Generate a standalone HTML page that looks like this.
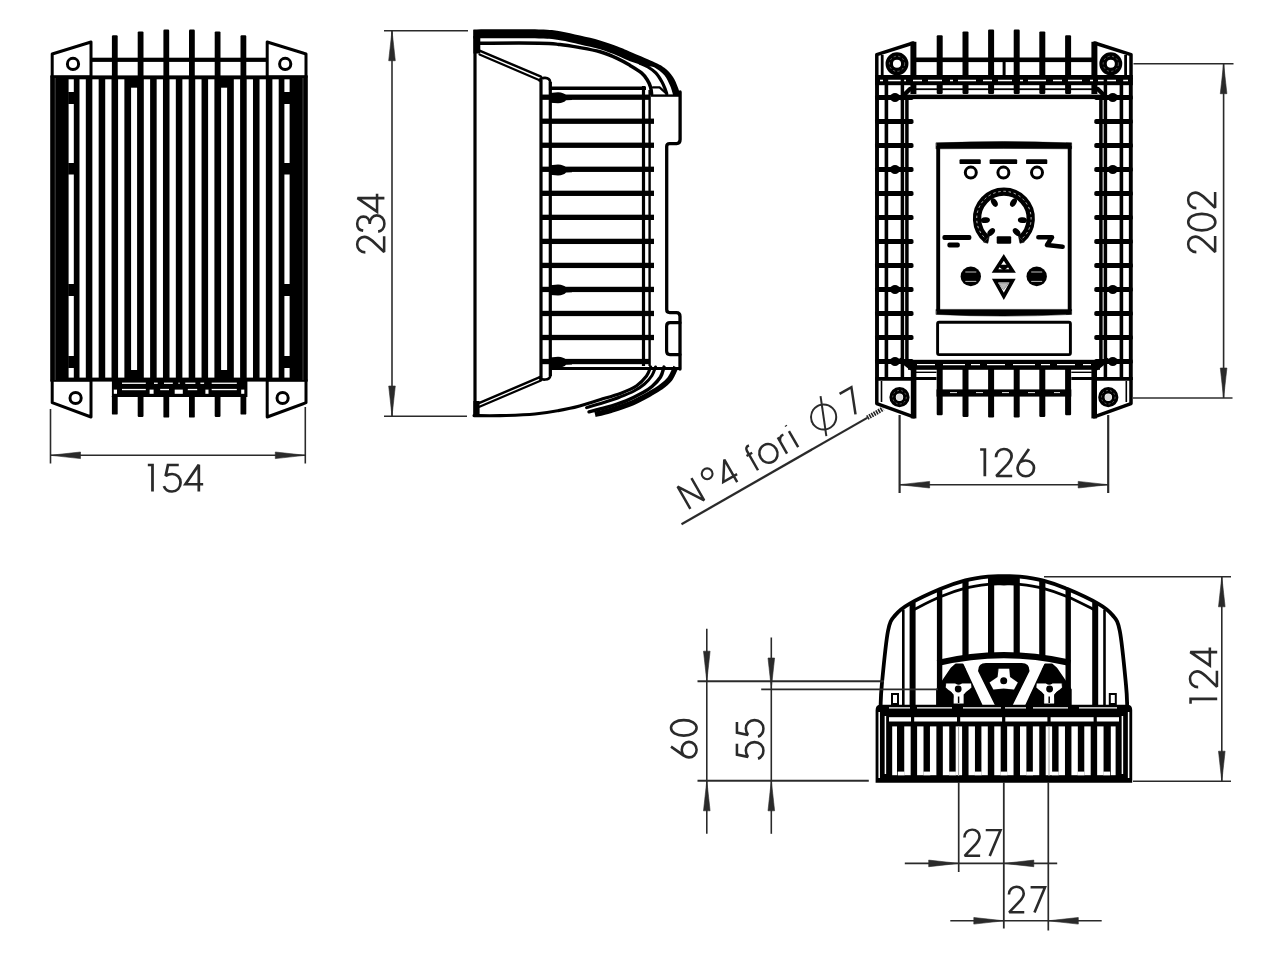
<!DOCTYPE html>
<html><head><meta charset="utf-8"><title>Dimensions</title>
<style>
html,body{margin:0;padding:0;background:#fff;}
body{width:1275px;height:960px;overflow:hidden;font-family:"Liberation Sans",sans-serif;}
svg{display:block;}
</style></head><body>
<svg width="1275" height="960" viewBox="0 0 1275 960">
<defs><filter id="soft" x="-2%" y="-2%" width="104%" height="104%"><feGaussianBlur stdDeviation="0.75"/></filter></defs>
<rect width="1275" height="960" fill="#fff"/>
<g filter="url(#soft)">
<path d="M52.2,77 L52.2,54 L91.0,42 L91.0,77 Z" stroke="#000" stroke-width="3" fill="#fff" stroke-linejoin="round" stroke-linecap="round" />
<circle cx="73.00" cy="63.90" r="5.60" stroke="#000" stroke-width="3" fill="none"/>
<path d="M52.2,380 L52.2,402.7 L91.0,417 L91.0,380 Z" stroke="#000" stroke-width="3" fill="#fff" stroke-linejoin="round" stroke-linecap="round" />
<circle cx="75.60" cy="398.00" r="5.60" stroke="#000" stroke-width="3" fill="none"/>
<path d="M306.0,77 L306.0,54 L267.2,42 L267.2,77 Z" stroke="#000" stroke-width="3" fill="#fff" stroke-linejoin="round" stroke-linecap="round" />
<circle cx="285.20" cy="63.90" r="5.60" stroke="#000" stroke-width="3" fill="none"/>
<path d="M306.0,380 L306.0,402.7 L267.2,417 L267.2,380 Z" stroke="#000" stroke-width="3" fill="#fff" stroke-linejoin="round" stroke-linecap="round" />
<circle cx="282.60" cy="398.00" r="5.60" stroke="#000" stroke-width="3" fill="none"/>
<rect x="91.00" y="57.70" width="176.20" height="4.20" fill="#000" />
<rect x="189.00" y="29.6" width="5.8" height="48.40" rx="1.2" fill="#000"/>
<rect x="189.00" y="395" width="5.8" height="22.60" rx="1.2" fill="#000"/>
<rect x="163.40" y="29.6" width="5.8" height="48.40" rx="1.2" fill="#000"/>
<rect x="163.40" y="395" width="5.8" height="22.60" rx="1.2" fill="#000"/>
<rect x="214.70" y="31.4" width="5.8" height="46.60" rx="1.2" fill="#000"/>
<rect x="214.70" y="395" width="5.8" height="22.00" rx="1.2" fill="#000"/>
<rect x="137.70" y="31.4" width="5.8" height="46.60" rx="1.2" fill="#000"/>
<rect x="137.70" y="395" width="5.8" height="22.00" rx="1.2" fill="#000"/>
<rect x="240.50" y="35.2" width="5.8" height="42.80" rx="1.2" fill="#000"/>
<rect x="240.50" y="395" width="5.8" height="19.60" rx="1.2" fill="#000"/>
<rect x="111.90" y="35.2" width="5.8" height="42.80" rx="1.2" fill="#000"/>
<rect x="111.90" y="395" width="5.8" height="19.60" rx="1.2" fill="#000"/>
<rect x="50.20" y="75.40" width="257.60" height="306.20" fill="#000" />
<rect x="182.38" y="79.30" width="6.30" height="298.30" fill="#fff" />
<rect x="169.52" y="79.30" width="6.30" height="298.30" fill="#fff" />
<rect x="195.24" y="79.30" width="6.30" height="298.30" fill="#fff" />
<rect x="156.66" y="79.30" width="6.30" height="298.30" fill="#fff" />
<rect x="208.10" y="79.30" width="6.30" height="298.30" fill="#fff" />
<rect x="143.80" y="79.30" width="6.30" height="298.30" fill="#fff" />
<rect x="221.11" y="87.70" width="6.00" height="282.30" fill="#fff" />
<rect x="131.09" y="87.70" width="6.00" height="282.30" fill="#fff" />
<rect x="233.82" y="79.30" width="6.30" height="298.30" fill="#fff" />
<rect x="118.08" y="79.30" width="6.30" height="298.30" fill="#fff" />
<rect x="246.68" y="79.30" width="6.30" height="298.30" fill="#fff" />
<rect x="105.22" y="79.30" width="6.30" height="298.30" fill="#fff" />
<rect x="259.54" y="79.30" width="6.30" height="298.30" fill="#fff" />
<rect x="92.36" y="79.30" width="6.30" height="298.30" fill="#fff" />
<rect x="272.40" y="79.30" width="6.30" height="298.30" fill="#fff" />
<rect x="79.50" y="79.30" width="6.30" height="298.30" fill="#fff" />
<rect x="68.60" y="79.30" width="5.20" height="298.30" fill="#fff" />
<rect x="68.20" y="92.00" width="6.00" height="12.00" fill="#000" />
<rect x="68.20" y="163.00" width="6.00" height="11.50" fill="#000" />
<rect x="68.20" y="284.00" width="6.00" height="12.00" fill="#000" />
<rect x="68.20" y="356.00" width="6.00" height="12.00" fill="#000" />
<line x1="55.20" y1="78.00" x2="55.20" y2="380.00" stroke="#555" stroke-width="0.8" stroke-linecap="butt"/>
<rect x="284.40" y="79.30" width="5.20" height="298.30" fill="#fff" />
<rect x="284.00" y="92.00" width="6.00" height="12.00" fill="#000" />
<rect x="284.00" y="163.00" width="6.00" height="11.50" fill="#000" />
<rect x="284.00" y="284.00" width="6.00" height="12.00" fill="#000" />
<rect x="284.00" y="356.00" width="6.00" height="12.00" fill="#000" />
<line x1="303.00" y1="78.00" x2="303.00" y2="380.00" stroke="#555" stroke-width="0.8" stroke-linecap="butt"/>
<rect x="111.90" y="379.00" width="135.50" height="18.00" fill="#000" />
<rect x="122.00" y="382.60" width="23.80" height="1.30" fill="#fff" />
<rect x="154.00" y="382.60" width="3.70" height="1.30" fill="#fff" />
<rect x="164.00" y="382.60" width="8.80" height="1.30" fill="#fff" />
<rect x="178.40" y="382.60" width="1.30" height="1.30" fill="#fff" />
<rect x="185.30" y="382.60" width="10.10" height="1.30" fill="#fff" />
<rect x="200.40" y="382.60" width="3.70" height="1.30" fill="#fff" />
<rect x="211.70" y="382.60" width="25.10" height="1.30" fill="#fff" />
<rect x="122.00" y="388.90" width="23.80" height="1.30" fill="#fff" />
<rect x="160.20" y="388.90" width="8.80" height="1.30" fill="#fff" />
<rect x="187.80" y="388.90" width="9.40" height="1.30" fill="#fff" />
<rect x="211.70" y="388.90" width="25.10" height="1.30" fill="#fff" />
<rect x="113.80" y="389.60" width="3.20" height="4.20" fill="#fff" />
<rect x="149.60" y="389.60" width="4.00" height="4.20" fill="#fff" />
<rect x="174.70" y="389.60" width="8.10" height="4.20" fill="#fff" />
<rect x="205.40" y="389.60" width="3.10" height="4.20" fill="#fff" />
<rect x="241.20" y="389.60" width="3.10" height="4.20" fill="#fff" />
<line x1="475.00" y1="30.00" x2="475.00" y2="417.00" stroke="#000" stroke-width="3.2" stroke-linecap="butt"/>
<path d="M474.0,415.6 C478.3,415.6 489.8,415.9 500.0,415.6 C510.2,415.3 523.3,415.2 535.0,414.0 C546.7,412.8 559.1,410.7 570.0,408.3 C580.9,405.9 592.1,402.0 600.6,399.5 C609.1,397.0 615.0,395.4 621.0,393.2 C627.0,390.9 632.0,388.9 636.3,386.0 C640.5,383.1 644.1,379.2 646.5,376.0 C648.9,372.8 649.9,368.5 650.6,367.0" stroke="#000" stroke-width="3.1" fill="none" stroke-linejoin="round" stroke-linecap="round" />
<path d="M473.4,29.4 C484.3,29.4 524.6,29.1 539.0,29.4 C553.4,29.7 553.2,30.2 560.0,31.2 C566.8,32.2 573.3,34.1 580.0,35.6 C586.7,37.1 593.7,38.7 600.0,40.5 C606.3,42.3 612.6,44.6 617.6,46.5 C622.6,48.4 624.1,49.2 630.0,51.7 C635.9,54.2 647.2,58.8 652.9,61.5 C658.6,64.2 661.0,65.2 664.4,67.8 C667.8,70.4 670.8,73.8 673.0,76.9 C675.2,80.1 676.5,83.9 677.6,86.7 C678.8,89.5 679.5,92.1 679.9,93.5 C680.3,94.9 680.2,94.8 680.2,95.0 L673.0,95.0 C672.9,94.6 672.9,94.0 672.4,92.4 C671.9,90.8 671.3,88.4 670.0,85.5 C668.7,82.6 667.0,78.2 664.4,75.2 C661.8,72.2 657.3,68.9 654.6,67.4 C651.9,65.9 650.2,66.7 648.0,66.3 C645.8,65.9 644.5,65.8 641.5,65.0 C638.5,64.2 634.0,62.8 630.0,61.3 C626.0,59.8 622.6,57.7 617.6,55.7 C612.6,53.7 606.3,51.2 600.0,49.3 C593.7,47.4 586.7,45.9 580.0,44.4 C573.3,42.9 566.8,41.2 560.0,40.2 C553.2,39.2 553.4,38.7 539.0,38.4 C524.6,38.1 484.3,38.4 473.4,38.4 Z" fill="#000"/>
<path d="M478.0,43.2 C488.2,43.2 525.3,43.0 539.0,43.2 C552.7,43.4 553.2,43.8 560.0,44.5 C566.8,45.2 573.3,46.4 580.0,47.6 C586.7,48.8 593.7,50.0 600.0,51.8 C606.3,53.6 612.6,56.3 617.6,58.6 C622.6,60.9 626.0,63.0 630.0,65.4 C634.0,67.8 638.6,70.5 641.5,72.9 C644.4,75.3 645.7,77.4 647.2,79.8 C648.7,82.2 649.9,84.8 650.6,87.2 C651.3,89.6 651.4,92.9 651.6,94.0" stroke="#000" stroke-width="3.5" fill="none" stroke-linejoin="round" stroke-linecap="round" />
<path d="M640.0,63.2 C641.3,63.8 645.4,65.4 648.0,67.0 C650.6,68.6 653.5,70.4 655.8,72.9 C658.1,75.4 660.4,79.2 662.0,82.0 C663.6,84.8 664.7,88.0 665.5,90.0 C666.3,92.0 666.6,93.3 666.8,94.0" stroke="#000" stroke-width="3.2" fill="none" stroke-linejoin="round" stroke-linecap="round" />
<path d="M653,87.4 L659.6,87.4 L665.4,92.6" stroke="#000" stroke-width="2.2" fill="none" stroke-linejoin="round" stroke-linecap="round" />
<path d="M479.5,50.6 L541,76.6" stroke="#000" stroke-width="2.4" fill="none" stroke-linejoin="round" stroke-linecap="round" />
<path d="M479.5,54.4 L539,80" stroke="#000" stroke-width="2.2" fill="none" stroke-linejoin="round" stroke-linecap="round" />
<rect x="473.40" y="36.00" width="6.90" height="17.50" fill="#000" />
<path d="M539.5,80.5 C541,77 549.5,76.5 550.2,82 L550.2,90" stroke="#000" stroke-width="2.6" fill="none" stroke-linejoin="round" stroke-linecap="round" />
<line x1="541.00" y1="80.00" x2="541.00" y2="380.00" stroke="#000" stroke-width="3.2" stroke-linecap="butt"/>
<line x1="550.30" y1="82.00" x2="550.30" y2="376.00" stroke="#000" stroke-width="3.2" stroke-linecap="butt"/>
<line x1="643.50" y1="86.00" x2="643.50" y2="366.00" stroke="#000" stroke-width="3.2" stroke-linecap="butt"/>
<line x1="649.60" y1="90.00" x2="649.60" y2="366.00" stroke="#000" stroke-width="2.4" stroke-linecap="butt"/>
<line x1="550.00" y1="88.20" x2="646.00" y2="88.20" stroke="#000" stroke-width="3.5" stroke-linecap="butt"/>
<rect x="541.00" y="94.55" width="109.00" height="5.30" fill="#000" />
<path d="M550,93.10 L558,92.30 Q564,92.70 566,95.10 L572,95.10 L572,100.10 L566,100.30 Q564,102.90 558,103.30 L550,102.70 Z" fill="#000"/>
<rect x="541.00" y="118.58" width="113.00" height="5.30" fill="#000" />
<rect x="541.00" y="142.61" width="113.00" height="5.30" fill="#000" />
<rect x="541.00" y="166.64" width="113.00" height="5.30" fill="#000" />
<path d="M550,165.19 L558,164.39 Q564,164.79 566,167.19 L572,167.19 L572,172.19 L566,172.39 Q564,174.99 558,175.39 L550,174.79 Z" fill="#000"/>
<rect x="541.00" y="190.67" width="113.00" height="5.30" fill="#000" />
<rect x="541.00" y="214.70" width="113.00" height="5.30" fill="#000" />
<rect x="541.00" y="238.73" width="113.00" height="5.30" fill="#000" />
<rect x="541.00" y="262.76" width="113.00" height="5.30" fill="#000" />
<rect x="541.00" y="286.79" width="113.00" height="5.30" fill="#000" />
<path d="M550,285.34 L558,284.54 Q564,284.94 566,287.34 L572,287.34 L572,292.34 L566,292.54 Q564,295.14 558,295.54 L550,294.94 Z" fill="#000"/>
<rect x="541.00" y="310.82" width="113.00" height="5.30" fill="#000" />
<rect x="541.00" y="334.85" width="113.00" height="5.30" fill="#000" />
<rect x="541.00" y="358.88" width="109.00" height="5.30" fill="#000" />
<path d="M550,357.43 L558,356.63 Q564,357.03 566,359.43 L572,359.43 L572,364.43 L566,364.63 Q564,367.23 558,367.63 L550,367.03 Z" fill="#000"/>
<line x1="651.00" y1="95.60" x2="681.00" y2="95.60" stroke="#000" stroke-width="2.4" stroke-linecap="butt"/>
<path d="M680.1,92 L680.1,139.6 Q680.1,143.6 676.6,143.6 L669.6,143.6 Q666.7,143.6 666.7,146.6 L666.7,309.6 Q666.7,312.6 669.6,312.6 L676.4,312.6 Q680.0,312.6 680.0,316.5 L680.0,369" stroke="#000" stroke-width="3.3" fill="none" stroke-linejoin="round" stroke-linecap="round" />
<path d="M680,322.7 L670,322.7 Q666.6,322.7 666.6,326.2 L666.6,351 Q666.6,354.6 670,354.6 L680,354.6" stroke="#000" stroke-width="3.2" fill="none" stroke-linejoin="round" stroke-linecap="round" />
<line x1="550.00" y1="368.60" x2="680.00" y2="368.60" stroke="#000" stroke-width="3.0" stroke-linecap="butt"/>
<path d="M550.3,362 L550.3,376 C549.5,380.5 541.5,380.5 539.5,377.5" stroke="#000" stroke-width="2.6" fill="none" stroke-linejoin="round" stroke-linecap="round" />
<path d="M541,376.6 L479.5,402.8" stroke="#000" stroke-width="2.4" fill="none" stroke-linejoin="round" stroke-linecap="round" />
<path d="M541,380.6 L479.5,406.8" stroke="#000" stroke-width="2.2" fill="none" stroke-linejoin="round" stroke-linecap="round" />
<rect x="473.40" y="401.00" width="6.20" height="15.00" fill="#000" />
<path d="M655.5,367.0 C654.9,368.4 653.8,372.7 652.0,375.5 C650.2,378.3 647.5,381.4 644.5,384.0 C641.5,386.6 638.1,388.8 634.0,391.0 C629.9,393.2 625.2,395.0 620.0,397.0 C614.8,399.0 608.6,401.0 603.0,402.8 C597.4,404.6 589.2,406.8 586.5,407.6" stroke="#000" stroke-width="3.0" fill="none" stroke-linejoin="round" stroke-linecap="round" />
<path d="M664.0,367.0 C663.4,368.7 662.5,373.8 660.5,377.0 C658.5,380.2 654.9,383.9 652.0,386.5 C649.1,389.1 647.3,390.1 643.0,392.5 C638.7,394.9 632.2,398.3 626.0,400.8 C619.8,403.3 612.2,405.7 606.0,407.5 C599.8,409.3 591.8,411.1 589.0,411.8" stroke="#000" stroke-width="3.4" fill="none" stroke-linejoin="round" stroke-linecap="round" />
<path d="M675.8,367.0 C674.8,369.0 672.4,375.6 669.8,379.0 C667.2,382.4 663.2,385.3 660.0,387.7 C656.8,390.1 655.3,390.9 650.3,393.6 C645.3,396.3 636.9,401.0 630.2,403.8 C623.5,406.6 615.9,408.8 610.0,410.6 C604.1,412.4 597.5,413.8 595.0,414.4" stroke="#000" stroke-width="5.4" fill="none" stroke-linejoin="round"  stroke-linecap="butt"/>
<rect x="1013.70" y="29.5" width="6.0" height="64.50" rx="1.2" fill="#000"/>
<rect x="1013.70" y="362" width="6.0" height="55.40" rx="1.2" fill="#000"/>
<rect x="988.10" y="29.5" width="6.0" height="64.50" rx="1.2" fill="#000"/>
<rect x="988.10" y="362" width="6.0" height="55.40" rx="1.2" fill="#000"/>
<rect x="1039.30" y="31.4" width="6.0" height="62.60" rx="1.2" fill="#000"/>
<rect x="1039.30" y="362" width="6.0" height="55.00" rx="1.2" fill="#000"/>
<rect x="962.50" y="31.4" width="6.0" height="62.60" rx="1.2" fill="#000"/>
<rect x="962.50" y="362" width="6.0" height="55.00" rx="1.2" fill="#000"/>
<rect x="1065.10" y="35.2" width="6.0" height="58.80" rx="1.2" fill="#000"/>
<rect x="1065.10" y="362" width="6.0" height="53.20" rx="1.2" fill="#000"/>
<rect x="936.70" y="35.2" width="6.0" height="58.80" rx="1.2" fill="#000"/>
<rect x="936.70" y="362" width="6.0" height="53.20" rx="1.2" fill="#000"/>
<path d="M876.8,78 L876.8,54.6 L913.2,43 L913.2,78 Z" stroke="#000" stroke-width="3.5" fill="#fff" stroke-linejoin="round" stroke-linecap="round" />
<line x1="913.40" y1="41.80" x2="913.40" y2="94.00" stroke="#000" stroke-width="6.0" stroke-linecap="butt"/>
<line x1="882.20" y1="55.00" x2="882.20" y2="76.00" stroke="#000" stroke-width="2.8" stroke-linecap="butt"/>
<circle cx="897.00" cy="63.80" r="7.75" stroke="#000" stroke-width="7.4" fill="none"/>
<circle cx="897.00" cy="63.8" r="7.6" stroke="#777" stroke-width="0.8" fill="none" stroke-dasharray="2.2 2.4"/>
<path d="M876.8,379 L876.8,403.6 L913.6,416.8 L913.6,379 Z" stroke="#000" stroke-width="3.5" fill="#fff" stroke-linejoin="round" stroke-linecap="round" />
<line x1="913.60" y1="364.00" x2="913.60" y2="418.40" stroke="#000" stroke-width="5.6" stroke-linecap="butt"/>
<line x1="881.50" y1="381.00" x2="881.50" y2="402.00" stroke="#000" stroke-width="1.6" stroke-linecap="butt"/>
<circle cx="899.50" cy="397.20" r="6.90" stroke="#000" stroke-width="6.4" fill="none"/>
<circle cx="899.50" cy="397.2" r="6.8" stroke="#777" stroke-width="0.8" fill="none" stroke-dasharray="2 2.2"/>
<circle cx="899.50" cy="397.2" r="3.3" fill="#ddd"/>
<path d="M1131.0,78 L1131.0,54.6 L1094.6,43 L1094.6,78 Z" stroke="#000" stroke-width="3.5" fill="#fff" stroke-linejoin="round" stroke-linecap="round" />
<line x1="1094.40" y1="41.80" x2="1094.40" y2="94.00" stroke="#000" stroke-width="6.0" stroke-linecap="butt"/>
<line x1="1125.60" y1="55.00" x2="1125.60" y2="76.00" stroke="#000" stroke-width="2.8" stroke-linecap="butt"/>
<circle cx="1110.80" cy="63.80" r="7.75" stroke="#000" stroke-width="7.4" fill="none"/>
<circle cx="1110.80" cy="63.8" r="7.6" stroke="#777" stroke-width="0.8" fill="none" stroke-dasharray="2.2 2.4"/>
<path d="M1131.0,379 L1131.0,403.6 L1094.2,416.8 L1094.2,379 Z" stroke="#000" stroke-width="3.5" fill="#fff" stroke-linejoin="round" stroke-linecap="round" />
<line x1="1094.20" y1="364.00" x2="1094.20" y2="418.40" stroke="#000" stroke-width="5.6" stroke-linecap="butt"/>
<line x1="1126.30" y1="381.00" x2="1126.30" y2="402.00" stroke="#000" stroke-width="1.6" stroke-linecap="butt"/>
<circle cx="1108.30" cy="397.20" r="6.90" stroke="#000" stroke-width="6.4" fill="none"/>
<circle cx="1108.30" cy="397.2" r="6.8" stroke="#777" stroke-width="0.8" fill="none" stroke-dasharray="2 2.2"/>
<circle cx="1108.30" cy="397.2" r="3.3" fill="#ddd"/>
<rect x="914.00" y="57.50" width="180.00" height="4.60" fill="#000" />
<rect x="1002.60" y="62.00" width="3.00" height="13.50" fill="#000" />
<rect x="875.00" y="75.00" width="257.80" height="10.20" fill="#000" />
<line x1="880" y1="80.5" x2="1128" y2="80.5" stroke="#fff" stroke-width="1.5" stroke-dasharray="3 5 18 7 9 6 14 8"/>
<rect x="915.00" y="88.30" width="178.00" height="1.80" fill="#000" />
<rect x="908.00" y="359.80" width="192.00" height="10.00" fill="#000" />
<line x1="917" y1="364.6" x2="1091" y2="364.6" stroke="#fff" stroke-width="1.2" stroke-dasharray="18 8 22 6 9 7"/>
<rect x="936.50" y="389.40" width="134.80" height="7.20" fill="#000" />
<line x1="950" y1="392.6" x2="1060" y2="392.6" stroke="#fff" stroke-width="0.9" stroke-dasharray="7 19"/>
<rect x="875.00" y="377.00" width="61.50" height="3.00" fill="#000" />
<rect x="916.00" y="371.60" width="20.50" height="1.40" fill="#000" />
<rect x="1071.30" y="377.00" width="61.50" height="3.00" fill="#000" />
<rect x="1071.30" y="371.60" width="20.50" height="1.40" fill="#000" />
<line x1="877.00" y1="78.00" x2="877.00" y2="380.00" stroke="#000" stroke-width="3.9" stroke-linecap="butt"/>
<line x1="886.40" y1="78.00" x2="886.40" y2="378.00" stroke="#000" stroke-width="3.6" stroke-linecap="butt"/>
<line x1="902.40" y1="78.00" x2="902.40" y2="378.00" stroke="#000" stroke-width="3.5" stroke-linecap="butt"/>
<line x1="906.90" y1="96.00" x2="906.90" y2="362.00" stroke="#000" stroke-width="3.5" stroke-linecap="butt"/>
<rect x="875.00" y="94.90" width="38.50" height="5.2" rx="1.8" fill="#000"/>
<ellipse cx="895.00" cy="97.50" rx="4.8" ry="4.6" fill="#000"/>
<rect x="875.00" y="118.90" width="38.50" height="5.2" rx="1.8" fill="#000"/>
<rect x="875.00" y="142.90" width="38.50" height="5.2" rx="1.8" fill="#000"/>
<rect x="875.00" y="166.90" width="38.50" height="5.2" rx="1.8" fill="#000"/>
<ellipse cx="895.00" cy="169.50" rx="4.8" ry="4.6" fill="#000"/>
<rect x="875.00" y="190.90" width="38.50" height="5.2" rx="1.8" fill="#000"/>
<rect x="875.00" y="214.90" width="38.50" height="5.2" rx="1.8" fill="#000"/>
<rect x="875.00" y="238.90" width="38.50" height="5.2" rx="1.8" fill="#000"/>
<rect x="875.00" y="262.90" width="38.50" height="5.2" rx="1.8" fill="#000"/>
<rect x="875.00" y="286.90" width="38.50" height="5.2" rx="1.8" fill="#000"/>
<ellipse cx="895.00" cy="289.50" rx="4.8" ry="4.6" fill="#000"/>
<rect x="875.00" y="310.90" width="38.50" height="5.2" rx="1.8" fill="#000"/>
<rect x="875.00" y="334.90" width="38.50" height="5.2" rx="1.8" fill="#000"/>
<rect x="875.00" y="358.90" width="38.50" height="5.2" rx="1.8" fill="#000"/>
<ellipse cx="895.00" cy="361.50" rx="4.8" ry="4.6" fill="#000"/>
<path d="M901.0,98 L910.0,89" stroke="#000" stroke-width="4.4" fill="none" stroke-linejoin="round" stroke-linecap="round" />
<path d="M901.0,360 L911.0,368" stroke="#000" stroke-width="4.4" fill="none" stroke-linejoin="round" stroke-linecap="round" />
<line x1="1130.80" y1="78.00" x2="1130.80" y2="380.00" stroke="#000" stroke-width="3.9" stroke-linecap="butt"/>
<line x1="1121.40" y1="78.00" x2="1121.40" y2="378.00" stroke="#000" stroke-width="3.6" stroke-linecap="butt"/>
<line x1="1105.40" y1="78.00" x2="1105.40" y2="378.00" stroke="#000" stroke-width="3.5" stroke-linecap="butt"/>
<line x1="1100.90" y1="96.00" x2="1100.90" y2="362.00" stroke="#000" stroke-width="3.5" stroke-linecap="butt"/>
<rect x="1094.30" y="94.90" width="38.50" height="5.2" rx="1.8" fill="#000"/>
<ellipse cx="1112.80" cy="97.50" rx="4.8" ry="4.6" fill="#000"/>
<rect x="1094.30" y="118.90" width="38.50" height="5.2" rx="1.8" fill="#000"/>
<rect x="1094.30" y="142.90" width="38.50" height="5.2" rx="1.8" fill="#000"/>
<rect x="1094.30" y="166.90" width="38.50" height="5.2" rx="1.8" fill="#000"/>
<ellipse cx="1112.80" cy="169.50" rx="4.8" ry="4.6" fill="#000"/>
<rect x="1094.30" y="190.90" width="38.50" height="5.2" rx="1.8" fill="#000"/>
<rect x="1094.30" y="214.90" width="38.50" height="5.2" rx="1.8" fill="#000"/>
<rect x="1094.30" y="238.90" width="38.50" height="5.2" rx="1.8" fill="#000"/>
<rect x="1094.30" y="262.90" width="38.50" height="5.2" rx="1.8" fill="#000"/>
<rect x="1094.30" y="286.90" width="38.50" height="5.2" rx="1.8" fill="#000"/>
<ellipse cx="1112.80" cy="289.50" rx="4.8" ry="4.6" fill="#000"/>
<rect x="1094.30" y="310.90" width="38.50" height="5.2" rx="1.8" fill="#000"/>
<rect x="1094.30" y="334.90" width="38.50" height="5.2" rx="1.8" fill="#000"/>
<rect x="1094.30" y="358.90" width="38.50" height="5.2" rx="1.8" fill="#000"/>
<ellipse cx="1112.80" cy="361.50" rx="4.8" ry="4.6" fill="#000"/>
<path d="M1106.8,98 L1097.8,89" stroke="#000" stroke-width="4.4" fill="none" stroke-linejoin="round" stroke-linecap="round" />
<path d="M1106.8,360 L1096.8,368" stroke="#000" stroke-width="4.4" fill="none" stroke-linejoin="round" stroke-linecap="round" />
<rect x="907.00" y="94.60" width="193.80" height="4.50" fill="#000" />
<path d="M938.2,146 L938.2,311 M1069.7,146 L1069.7,311" stroke="#000" stroke-width="3.9" fill="none" stroke-linejoin="round"  stroke-linecap="butt"/>
<path d="M936.3,142.8 Q1003.9,140.2 1071.6,142.8 L1071.6,148.8 Q1003.9,148.0 936.3,148.8 Z" stroke="#000" stroke-width="0.5" fill="#000" stroke-linejoin="round" stroke-linecap="round" />
<path d="M936.3,309.4 L1071.6,309.4 L1071.6,314.4 Q1003.9,317.8 936.3,314.4 Z" stroke="#000" stroke-width="0.5" fill="#000" stroke-linejoin="round" stroke-linecap="round" />
<rect x="959.5" y="159.2" width="21.30" height="4.9" rx="1.2" fill="#000"/>
<rect x="989.6" y="159.2" width="27.60" height="4.9" rx="1.2" fill="#000"/>
<rect x="1026" y="159.2" width="21.30" height="4.9" rx="1.2" fill="#000"/>
<circle cx="970.80" cy="172.60" r="5.50" stroke="#000" stroke-width="3.0" fill="none"/>
<circle cx="1003.40" cy="172.60" r="5.50" stroke="#000" stroke-width="3.0" fill="none"/>
<circle cx="1037.00" cy="172.60" r="5.50" stroke="#000" stroke-width="3.0" fill="none"/>
<path d="M986.64,239.07 A26.85,26.85 0 1 1 1021.16,239.07" stroke="#000" stroke-width="8.3" fill="none" stroke-linejoin="round"  stroke-linecap="butt"/>
<path d="M987.91,240.51 A27.2,27.2 0 1 1 1019.89,240.51" stroke="#ddd" stroke-width="0.85" fill="none" stroke-dasharray="2.4 2.8"/>
<path d="M983.97,242.25 L987.83,243.24 L989.31,235.89 Z" stroke="#000" stroke-width="0.6" fill="#000" stroke-linejoin="round" stroke-linecap="round" />
<path d="M1023.83,242.25 L1019.97,243.24 L1018.49,235.89 Z" stroke="#000" stroke-width="0.6" fill="#000" stroke-linejoin="round" stroke-linecap="round" />
<ellipse cx="994.32" cy="202.56" rx="2.9" ry="4.6" transform="rotate(-31 994.32 202.56)" fill="#000"/>
<ellipse cx="1013.48" cy="202.56" rx="2.9" ry="4.6" transform="rotate(31 1013.48 202.56)" fill="#000"/>
<ellipse cx="985.37" cy="220.12" rx="2.9" ry="4.6" transform="rotate(-95 985.37 220.12)" fill="#000"/>
<ellipse cx="1022.43" cy="220.12" rx="2.9" ry="4.6" transform="rotate(95 1022.43 220.12)" fill="#000"/>
<ellipse cx="991.21" cy="232.10" rx="2.9" ry="4.6" transform="rotate(-137 991.21 232.10)" fill="#000"/>
<ellipse cx="1016.59" cy="232.10" rx="2.9" ry="4.6" transform="rotate(137 1016.59 232.10)" fill="#000"/>
<rect x="996.7" y="236.3" width="14.5" height="7.4" rx="1.2" fill="#000"/>
<rect x="942.4" y="235.0" width="29" height="5.0" rx="2" fill="#000"/>
<rect x="947.4" y="242.6" width="12.4" height="4.8" rx="2" fill="#000"/>
<path d="M1038.4,237.2 L1052,237.2 L1047,245 L1062.6,246.8" stroke="#000" stroke-width="4.6" fill="none" stroke-linejoin="round" stroke-linecap="round" />
<ellipse cx="970.8" cy="276.4" rx="10.2" ry="9.8" fill="#000"/>
<line x1="965.3" y1="272" x2="976.3" y2="272" stroke="#bbb" stroke-width="1.0"/>
<line x1="965.3" y1="281.4" x2="976.3" y2="281.4" stroke="#bbb" stroke-width="1.0"/>
<ellipse cx="1036.7" cy="276.4" rx="10.2" ry="9.8" fill="#000"/>
<line x1="1031.2" y1="272" x2="1042.2" y2="272" stroke="#bbb" stroke-width="1.0"/>
<line x1="1031.2" y1="281.4" x2="1042.2" y2="281.4" stroke="#bbb" stroke-width="1.0"/>
<path d="M1003.8,257.4 L1012.6,271 L995,271 Z" stroke="#000" stroke-width="3.6" fill="#fff"  stroke-linecap="round" stroke-linejoin="miter"/>
<path d="M1003.8,269.6 L998.6,265.6 L1009,265.6 Z" stroke="#000" stroke-width="1.6" fill="#000" stroke-linejoin="round" stroke-linecap="round" />
<path d="M1003.8,296.4 L1012.6,280.6 L995,280.6 Z" stroke="#000" stroke-width="3.6" fill="#fff"  stroke-linecap="round" stroke-linejoin="miter"/>
<path d="M999,283 L1008.6,283 L1003.8,289.5 Z" stroke="#999" stroke-width="1" fill="#bbb" stroke-linejoin="round" stroke-linecap="round" />
<rect x="937.6" y="322.2" width="132.8" height="32.4" rx="1.5" fill="none" stroke="#000" stroke-width="2.9"/>
<path d="M880.6,706.0 C880.8,702.5 880.6,697.5 881.8,685.0 C883.0,672.5 885.7,642.7 888.0,631.0 C890.3,619.3 891.8,619.5 895.4,615.0 C899.0,610.5 901.9,608.1 909.4,603.8 C916.9,599.5 931.0,592.9 940.3,589.0 C949.6,585.1 957.4,582.5 965.4,580.4 C973.4,578.3 981.6,577.3 988.0,576.6 C994.4,575.9 998.6,576.2 1003.9,576.2 C1009.2,576.2 1013.4,575.9 1019.8,576.6 C1026.2,577.3 1034.5,578.3 1042.4,580.4 C1050.4,582.5 1058.2,585.1 1067.5,589.0 C1076.8,592.9 1090.9,599.5 1098.4,603.8 C1105.9,608.1 1108.8,610.5 1112.4,615.0 C1116.0,619.5 1117.5,619.3 1119.8,631.0 C1122.1,642.7 1124.8,672.5 1126.0,685.0 C1127.2,697.5 1127.0,702.5 1127.2,706.0" stroke="#000" stroke-width="3.8" fill="none" stroke-linejoin="round" stroke-linecap="round" />
<path d="M913.0,610.0 C917.5,607.8 931.6,600.4 940.3,596.8 C949.0,593.2 957.4,590.3 965.4,588.2 C973.4,586.1 981.6,585.1 988.0,584.4 C994.4,583.7 998.6,584.0 1003.9,584.0 C1009.2,584.0 1013.4,583.7 1019.8,584.4 C1026.2,585.1 1034.5,586.1 1042.4,588.2 C1050.4,590.3 1058.8,593.2 1067.5,596.8 C1076.2,600.4 1090.2,607.8 1094.8,610.0" stroke="#000" stroke-width="2.8" fill="none" stroke-linejoin="round" stroke-linecap="round" />
<rect x="991.00" y="577.00" width="26.00" height="7.00" fill="#000" />
<line x1="903.30" y1="609.68" x2="903.30" y2="705.00" stroke="#000" stroke-width="2.6" stroke-linecap="butt"/>
<line x1="912.60" y1="602.27" x2="912.60" y2="705.00" stroke="#000" stroke-width="6" stroke-linecap="butt"/>
<line x1="939.60" y1="589.34" x2="939.60" y2="705.00" stroke="#000" stroke-width="5.4" stroke-linecap="butt"/>
<line x1="1016.70" y1="576.52" x2="1016.70" y2="656.31" stroke="#000" stroke-width="6.2" stroke-linecap="butt"/>
<line x1="1042.30" y1="580.38" x2="1042.30" y2="658.81" stroke="#000" stroke-width="6.2" stroke-linecap="butt"/>
<rect x="892.00" y="694" width="6" height="10" fill="#fff" stroke="#000" stroke-width="2"/>
<line x1="1104.50" y1="609.68" x2="1104.50" y2="705.00" stroke="#000" stroke-width="2.6" stroke-linecap="butt"/>
<line x1="1095.20" y1="602.27" x2="1095.20" y2="705.00" stroke="#000" stroke-width="6" stroke-linecap="butt"/>
<line x1="1068.20" y1="589.34" x2="1068.20" y2="705.00" stroke="#000" stroke-width="5.4" stroke-linecap="butt"/>
<line x1="991.10" y1="576.52" x2="991.10" y2="656.31" stroke="#000" stroke-width="6.2" stroke-linecap="butt"/>
<line x1="965.50" y1="580.38" x2="965.50" y2="658.81" stroke="#000" stroke-width="6.2" stroke-linecap="butt"/>
<rect x="1109.80" y="694" width="6" height="10" fill="#fff" stroke="#000" stroke-width="2"/>
<path d="M937.5,663 Q1003.9,647.2 1070.3,663" stroke="#000" stroke-width="6.4" fill="none" stroke-linejoin="round"  stroke-linecap="butt"/>
<path d="M956.0,664.5 L962.5,664.5 L981.3,705.0 L937.2,705.0 L937.2,689.5 L951.5,668.5 Z" stroke="#000" stroke-width="2.2" fill="#000" stroke-linejoin="round" stroke-linecap="round" />
<circle cx="958.80" cy="671.6" r="7.2" fill="#000"/>
<path d="M946.2,683.4 L971.0,683.4 L971.4,687.6 L963.6,694.4 L963.6,703.4 L953.7,703.4 L953.7,694.4 L945.8,687.6 Z" stroke="#fff" stroke-width="0.1" fill="#fff" stroke-linejoin="round" stroke-linecap="round" />
<circle cx="958.20" cy="689" r="3.4" fill="#000"/>
<circle cx="958.60" cy="680.6" r="4.2" fill="#000"/>
<circle cx="946.60" cy="696.8" r="6.8" fill="#000"/>
<circle cx="970.80" cy="696.8" r="6.8" fill="#000"/>
<line x1="958.60" y1="696.50" x2="958.60" y2="703.00" stroke="#000" stroke-width="1.5" stroke-linecap="butt"/>
<path d="M1051.8,664.5 L1045.3,664.5 L1026.5,705.0 L1070.6,705.0 L1070.6,689.5 L1056.3,668.5 Z" stroke="#000" stroke-width="2.2" fill="#000" stroke-linejoin="round" stroke-linecap="round" />
<circle cx="1049.00" cy="671.6" r="7.2" fill="#000"/>
<path d="M1061.6,683.4 L1036.8,683.4 L1036.4,687.6 L1044.2,694.4 L1044.2,703.4 L1054.1,703.4 L1054.1,694.4 L1062.0,687.6 Z" stroke="#fff" stroke-width="0.1" fill="#fff" stroke-linejoin="round" stroke-linecap="round" />
<circle cx="1049.60" cy="689" r="3.4" fill="#000"/>
<circle cx="1049.20" cy="680.6" r="4.2" fill="#000"/>
<circle cx="1061.20" cy="696.8" r="6.8" fill="#000"/>
<circle cx="1037.00" cy="696.8" r="6.8" fill="#000"/>
<line x1="1049.20" y1="696.50" x2="1049.20" y2="703.00" stroke="#000" stroke-width="1.5" stroke-linecap="butt"/>
<path d="M978.8,671 Q978.8,663.8 986,663.8 L1021.6,663.8 Q1028.8,663.8 1028.8,671 L1012,704.8 L995.6,704.8 Z" stroke="#000" stroke-width="1.5" fill="#000" stroke-linejoin="round" stroke-linecap="round" />
<path d="M998.6,668.8 L1009.2,668.8 L1010.0,677.0 L1017.8,682.6 L1014.0,689.4 L1003.7,688.4 L993.4,689.4 L989.6,682.6 L997.6,677.0 Z" stroke="#fff" stroke-width="0.1" fill="#fff" stroke-linejoin="round" stroke-linecap="round" />
<circle cx="1003.7" cy="680.8" r="3.5" fill="#000"/>
<circle cx="1003.7" cy="696.2" r="7" fill="#000"/>
<path d="M880.6,704.8 L1127.2,704.8 Q1132.2,704.8 1132.2,710 L1132.2,782.8 L875.6,782.8 L875.6,710 Q875.6,704.8 880.6,704.8 Z" fill="#000"/>
<line x1="889" y1="707.9" x2="1119" y2="707.9" stroke="#fff" stroke-width="1.1" stroke-dasharray="21 7 35 11 38 4"/>
<rect x="889.00" y="717.20" width="230.00" height="4.30" fill="#fff" />
<rect x="911.00" y="717.00" width="3.20" height="5.00" fill="#000" />
<rect x="957.00" y="717.00" width="3.20" height="5.00" fill="#000" />
<rect x="1002.10" y="717.00" width="3.20" height="5.00" fill="#000" />
<rect x="1047.40" y="717.00" width="3.20" height="5.00" fill="#000" />
<rect x="1093.60" y="717.00" width="3.20" height="5.00" fill="#000" />
<rect x="1007.13" y="726.40" width="6.40" height="48.80" fill="#fff" />
<rect x="994.27" y="726.40" width="6.40" height="48.80" fill="#fff" />
<rect x="1019.99" y="726.40" width="6.40" height="48.80" fill="#fff" />
<rect x="981.41" y="726.40" width="6.40" height="48.80" fill="#fff" />
<rect x="1032.85" y="726.40" width="6.40" height="48.80" fill="#fff" />
<rect x="968.55" y="726.40" width="6.40" height="48.80" fill="#fff" />
<rect x="1045.71" y="726.40" width="6.40" height="48.80" fill="#fff" />
<rect x="955.69" y="726.40" width="6.40" height="48.80" fill="#fff" />
<rect x="1058.57" y="726.40" width="6.40" height="48.80" fill="#fff" />
<rect x="942.83" y="726.40" width="6.40" height="48.80" fill="#fff" />
<rect x="1071.43" y="726.40" width="6.40" height="48.80" fill="#fff" />
<rect x="929.97" y="726.40" width="6.40" height="48.80" fill="#fff" />
<rect x="1084.29" y="726.40" width="6.40" height="48.80" fill="#fff" />
<rect x="917.11" y="726.40" width="6.40" height="48.80" fill="#fff" />
<rect x="1097.15" y="726.40" width="6.40" height="48.80" fill="#fff" />
<rect x="904.25" y="726.40" width="6.40" height="48.80" fill="#fff" />
<rect x="1110.81" y="726.40" width="4.80" height="48.80" fill="#fff" />
<rect x="892.19" y="726.40" width="4.80" height="48.80" fill="#fff" />
<rect x="1000.50" y="771.60" width="6.80" height="3.80" fill="#fff" />
<rect x="1026.20" y="771.60" width="6.80" height="3.80" fill="#fff" />
<rect x="1051.90" y="771.60" width="6.80" height="3.80" fill="#fff" />
<rect x="1077.60" y="771.60" width="6.80" height="3.80" fill="#fff" />
<rect x="1103.30" y="771.60" width="6.80" height="3.80" fill="#fff" />
<rect x="974.80" y="771.60" width="6.80" height="3.80" fill="#fff" />
<rect x="949.10" y="771.60" width="6.80" height="3.80" fill="#fff" />
<rect x="923.40" y="771.60" width="6.80" height="3.80" fill="#fff" />
<rect x="897.70" y="771.60" width="6.80" height="3.80" fill="#fff" />
<line x1="879.20" y1="712.00" x2="879.20" y2="778.00" stroke="#fff" stroke-width="1.5" stroke-linecap="butt"/>
<line x1="885.40" y1="716.00" x2="885.40" y2="774.00" stroke="#fff" stroke-width="1.5" stroke-linecap="butt"/>
<line x1="1128.60" y1="712.00" x2="1128.60" y2="778.00" stroke="#fff" stroke-width="1.5" stroke-linecap="butt"/>
<line x1="1122.40" y1="716.00" x2="1122.40" y2="774.00" stroke="#fff" stroke-width="1.5" stroke-linecap="butt"/>
<line x1="958.60" y1="726.00" x2="958.60" y2="776.00" stroke="#999" stroke-width="1.0" stroke-linecap="butt"/>
<line x1="1049.00" y1="726.00" x2="1049.00" y2="776.00" stroke="#999" stroke-width="1.0" stroke-linecap="butt"/>
<line x1="50.50" y1="409.00" x2="50.50" y2="463.50" stroke="#2b2b2b" stroke-width="1.6" stroke-linecap="butt"/>
<line x1="305.30" y1="407.00" x2="305.30" y2="463.50" stroke="#2b2b2b" stroke-width="1.6" stroke-linecap="butt"/>
<line x1="50.50" y1="455.30" x2="305.30" y2="455.30" stroke="#2b2b2b" stroke-width="1.6" stroke-linecap="butt"/>
<path d="M50.50,455.30 L80.50,452.00 L80.50,458.60 Z" fill="#2b2b2b" stroke="#2b2b2b" stroke-width="0.6"/>
<path d="M305.30,455.30 L275.30,458.60 L275.30,452.00 Z" fill="#2b2b2b" stroke="#2b2b2b" stroke-width="0.6"/>
<g transform="translate(150.16,491.50) scale(0.2916,0.2700) translate(-16.00,-100)" fill="none" stroke="#2b2b2b" stroke-width="9.44" stroke-linejoin="miter" stroke-miterlimit="2.2"><path d="M8,2 L24,2 L24,100"/></g>
<g transform="translate(172.22,491.50) scale(0.2916,0.2700) translate(-31.50,-100)" fill="none" stroke="#2b2b2b" stroke-width="9.44" stroke-linejoin="miter" stroke-miterlimit="2.2"><path d="M54,2 L17,2 L9,43 C15,38 23,35 31,35 C48,35 60,49 60,67 C60,86 48,100 31,100 C17,100 7,92 3,80"/></g>
<g transform="translate(194.28,491.50) scale(0.2916,0.2700) translate(-33.50,-100)" fill="none" stroke="#2b2b2b" stroke-width="9.44" stroke-linejoin="miter" stroke-miterlimit="2.2"><path d="M49,100 L49,1 L3,73 L64,73"/></g>
<line x1="384.00" y1="30.70" x2="468.00" y2="30.70" stroke="#2b2b2b" stroke-width="1.5" stroke-linecap="butt"/>
<line x1="384.00" y1="416.20" x2="467.00" y2="416.20" stroke="#2b2b2b" stroke-width="1.5" stroke-linecap="butt"/>
<line x1="392.00" y1="30.70" x2="392.00" y2="416.00" stroke="#2b2b2b" stroke-width="1.6" stroke-linecap="butt"/>
<path d="M392.00,30.70 L395.30,60.70 L388.70,60.70 Z" fill="#2b2b2b" stroke="#2b2b2b" stroke-width="0.6"/>
<path d="M392.00,416.00 L388.70,386.00 L395.30,386.00 Z" fill="#2b2b2b" stroke="#2b2b2b" stroke-width="0.6"/>
<g transform="translate(384.40,244.30) rotate(-90) scale(0.2938,0.2720) translate(-32.50,-100)" fill="none" stroke="#2b2b2b" stroke-width="9.37" stroke-linejoin="miter" stroke-miterlimit="2.2"><path d="M5,30 C5,12 17,0 32,0 C47,0 58,11 58,26 C58,38 52,46 44,56 L6,99 L60,99"/></g>
<g transform="translate(384.40,223.49) rotate(-90) scale(0.2938,0.2720) translate(-31.50,-100)" fill="none" stroke="#2b2b2b" stroke-width="9.37" stroke-linejoin="miter" stroke-miterlimit="2.2"><path d="M7,22 C9,8 19,0 31,0 C45,0 55,9 55,23 C55,37 45,46 30,46 C47,46 59,57 59,72 C59,88 47,100 31,100 C16,100 6,90 4,77"/></g>
<g transform="translate(384.40,202.68) rotate(-90) scale(0.2938,0.2720) translate(-33.50,-100)" fill="none" stroke="#2b2b2b" stroke-width="9.37" stroke-linejoin="miter" stroke-miterlimit="2.2"><path d="M49,100 L49,1 L3,73 L64,73"/></g>
<line x1="1133.50" y1="63.70" x2="1233.50" y2="63.70" stroke="#2b2b2b" stroke-width="1.6" stroke-linecap="butt"/>
<line x1="1133.00" y1="398.00" x2="1232.50" y2="398.00" stroke="#2b2b2b" stroke-width="1.6" stroke-linecap="butt"/>
<line x1="1223.60" y1="63.70" x2="1223.60" y2="398.00" stroke="#2b2b2b" stroke-width="1.6" stroke-linecap="butt"/>
<path d="M1223.60,63.70 L1226.90,93.70 L1220.30,93.70 Z" fill="#2b2b2b" stroke="#2b2b2b" stroke-width="0.6"/>
<path d="M1223.60,398.00 L1220.30,368.00 L1226.90,368.00 Z" fill="#2b2b2b" stroke="#2b2b2b" stroke-width="0.6"/>
<g transform="translate(1215.40,244.10) rotate(-90) scale(0.2938,0.2720) translate(-32.50,-100)" fill="none" stroke="#2b2b2b" stroke-width="9.37" stroke-linejoin="miter" stroke-miterlimit="2.2"><path d="M5,30 C5,12 17,0 32,0 C47,0 58,11 58,26 C58,38 52,46 44,56 L6,99 L60,99"/></g>
<g transform="translate(1215.40,222.05) rotate(-90) scale(0.2938,0.2720) translate(-31.00,-100)" fill="none" stroke="#2b2b2b" stroke-width="9.37" stroke-linejoin="miter" stroke-miterlimit="2.2"><path d="M31,0 C47,0 59,20 59,50 C59,80 47,100 31,100 C15,100 3,80 3,50 C3,20 15,0 31,0 Z"/></g>
<g transform="translate(1215.40,200.00) rotate(-90) scale(0.2938,0.2720) translate(-32.50,-100)" fill="none" stroke="#2b2b2b" stroke-width="9.37" stroke-linejoin="miter" stroke-miterlimit="2.2"><path d="M5,30 C5,12 17,0 32,0 C47,0 58,11 58,26 C58,38 52,46 44,56 L6,99 L60,99"/></g>
<line x1="899.60" y1="415.00" x2="899.60" y2="493.00" stroke="#2b2b2b" stroke-width="2.2" stroke-linecap="butt"/>
<line x1="1108.20" y1="415.00" x2="1108.20" y2="493.00" stroke="#2b2b2b" stroke-width="2.2" stroke-linecap="butt"/>
<line x1="899.60" y1="484.70" x2="1108.20" y2="484.70" stroke="#2b2b2b" stroke-width="1.6" stroke-linecap="butt"/>
<path d="M899.60,484.70 L929.60,481.40 L929.60,488.00 Z" fill="#2b2b2b" stroke="#2b2b2b" stroke-width="0.6"/>
<path d="M1108.20,484.70 L1078.20,488.00 L1078.20,481.40 Z" fill="#2b2b2b" stroke="#2b2b2b" stroke-width="0.6"/>
<g transform="translate(982.48,476.20) scale(0.2938,0.2720) translate(-16.00,-100)" fill="none" stroke="#2b2b2b" stroke-width="9.37" stroke-linejoin="miter" stroke-miterlimit="2.2"><path d="M8,2 L24,2 L24,100"/></g>
<g transform="translate(1004.11,476.20) scale(0.2938,0.2720) translate(-32.50,-100)" fill="none" stroke="#2b2b2b" stroke-width="9.37" stroke-linejoin="miter" stroke-miterlimit="2.2"><path d="M5,30 C5,12 17,0 32,0 C47,0 58,11 58,26 C58,38 52,46 44,56 L6,99 L60,99"/></g>
<g transform="translate(1025.75,476.20) scale(0.2938,0.2720) translate(-31.00,-100)" fill="none" stroke="#2b2b2b" stroke-width="9.37" stroke-linejoin="miter" stroke-miterlimit="2.2"><path d="M42,0 L11,48 C5,58 3,64 3,70 C3,87 15,100 31,100 C47,100 59,87 59,70 C59,54 47,42 31,42 C23,42 16,45 11,49"/></g>
<line x1="1044.00" y1="576.80" x2="1231.00" y2="576.80" stroke="#2b2b2b" stroke-width="1.6" stroke-linecap="butt"/>
<line x1="1133.00" y1="781.20" x2="1231.00" y2="781.20" stroke="#2b2b2b" stroke-width="1.6" stroke-linecap="butt"/>
<line x1="1221.80" y1="576.80" x2="1221.80" y2="781.20" stroke="#2b2b2b" stroke-width="1.6" stroke-linecap="butt"/>
<path d="M1221.80,576.80 L1225.10,606.80 L1218.50,606.80 Z" fill="#2b2b2b" stroke="#2b2b2b" stroke-width="0.6"/>
<path d="M1221.80,781.20 L1218.50,751.20 L1225.10,751.20 Z" fill="#2b2b2b" stroke="#2b2b2b" stroke-width="0.6"/>
<g transform="translate(1217.20,701.32) rotate(-90) scale(0.2938,0.2720) translate(-16.00,-100)" fill="none" stroke="#2b2b2b" stroke-width="9.37" stroke-linejoin="miter" stroke-miterlimit="2.2"><path d="M8,2 L24,2 L24,100"/></g>
<g transform="translate(1217.20,678.95) rotate(-90) scale(0.2938,0.2720) translate(-32.50,-100)" fill="none" stroke="#2b2b2b" stroke-width="9.37" stroke-linejoin="miter" stroke-miterlimit="2.2"><path d="M5,30 C5,12 17,0 32,0 C47,0 58,11 58,26 C58,38 52,46 44,56 L6,99 L60,99"/></g>
<g transform="translate(1217.20,656.58) rotate(-90) scale(0.2938,0.2720) translate(-33.50,-100)" fill="none" stroke="#2b2b2b" stroke-width="9.37" stroke-linejoin="miter" stroke-miterlimit="2.2"><path d="M49,100 L49,1 L3,73 L64,73"/></g>
<line x1="697.50" y1="681.20" x2="884.00" y2="681.20" stroke="#2b2b2b" stroke-width="1.9" stroke-linecap="butt"/>
<line x1="697.50" y1="780.80" x2="868.80" y2="780.80" stroke="#2b2b2b" stroke-width="1.9" stroke-linecap="butt"/>
<line x1="706.80" y1="628.80" x2="706.80" y2="833.80" stroke="#2b2b2b" stroke-width="1.6" stroke-linecap="butt"/>
<path d="M706.80,681.20 L703.50,651.20 L710.10,651.20 Z" fill="#2b2b2b" stroke="#2b2b2b" stroke-width="0.6"/>
<path d="M706.80,780.80 L710.10,810.80 L703.50,810.80 Z" fill="#2b2b2b" stroke="#2b2b2b" stroke-width="0.6"/>
<g transform="translate(696.60,749.73) rotate(-90) scale(0.2765,0.2560) translate(-31.00,-100)" fill="none" stroke="#2b2b2b" stroke-width="9.95" stroke-linejoin="miter" stroke-miterlimit="2.2"><path d="M42,0 L11,48 C5,58 3,64 3,70 C3,87 15,100 31,100 C47,100 59,87 59,70 C59,54 47,42 31,42 C23,42 16,45 11,49"/></g>
<g transform="translate(696.60,727.87) rotate(-90) scale(0.2765,0.2560) translate(-31.00,-100)" fill="none" stroke="#2b2b2b" stroke-width="9.95" stroke-linejoin="miter" stroke-miterlimit="2.2"><path d="M31,0 C47,0 59,20 59,50 C59,80 47,100 31,100 C15,100 3,80 3,50 C3,20 15,0 31,0 Z"/></g>
<line x1="761.20" y1="689.40" x2="938.00" y2="689.40" stroke="#2b2b2b" stroke-width="1.7" stroke-linecap="butt"/>
<line x1="771.30" y1="637.50" x2="771.30" y2="833.80" stroke="#2b2b2b" stroke-width="1.6" stroke-linecap="butt"/>
<path d="M771.30,688.00 L768.00,658.00 L774.60,658.00 Z" fill="#2b2b2b" stroke="#2b2b2b" stroke-width="0.6"/>
<path d="M771.30,780.80 L774.60,810.80 L768.00,810.80 Z" fill="#2b2b2b" stroke="#2b2b2b" stroke-width="0.6"/>
<g transform="translate(763.40,750.36) rotate(-90) scale(0.2916,0.2700) translate(-31.50,-100)" fill="none" stroke="#2b2b2b" stroke-width="9.44" stroke-linejoin="miter" stroke-miterlimit="2.2"><path d="M54,2 L17,2 L9,43 C15,38 23,35 31,35 C48,35 60,49 60,67 C60,86 48,100 31,100 C17,100 7,92 3,80"/></g>
<g transform="translate(763.40,728.44) rotate(-90) scale(0.2916,0.2700) translate(-31.50,-100)" fill="none" stroke="#2b2b2b" stroke-width="9.44" stroke-linejoin="miter" stroke-miterlimit="2.2"><path d="M54,2 L17,2 L9,43 C15,38 23,35 31,35 C48,35 60,49 60,67 C60,86 48,100 31,100 C17,100 7,92 3,80"/></g>
<line x1="958.70" y1="782.00" x2="958.70" y2="872.00" stroke="#2b2b2b" stroke-width="1.7" stroke-linecap="butt"/>
<line x1="1003.80" y1="782.00" x2="1003.80" y2="928.50" stroke="#2b2b2b" stroke-width="1.8" stroke-linecap="butt"/>
<line x1="1048.30" y1="782.00" x2="1048.30" y2="930.50" stroke="#2b2b2b" stroke-width="1.7" stroke-linecap="butt"/>
<line x1="904.80" y1="863.40" x2="1057.20" y2="863.40" stroke="#2b2b2b" stroke-width="1.6" stroke-linecap="butt"/>
<path d="M958.70,863.40 L928.70,866.70 L928.70,860.10 Z" fill="#2b2b2b" stroke="#2b2b2b" stroke-width="0.6"/>
<path d="M1003.80,863.40 L1033.80,860.10 L1033.80,866.70 Z" fill="#2b2b2b" stroke="#2b2b2b" stroke-width="0.6"/>
<line x1="950.30" y1="920.80" x2="1101.70" y2="920.80" stroke="#2b2b2b" stroke-width="1.6" stroke-linecap="butt"/>
<path d="M1003.80,920.80 L973.80,924.10 L973.80,917.50 Z" fill="#2b2b2b" stroke="#2b2b2b" stroke-width="0.6"/>
<path d="M1048.30,920.80 L1078.30,917.50 L1078.30,924.10 Z" fill="#2b2b2b" stroke="#2b2b2b" stroke-width="0.6"/>
<g transform="translate(972.29,856.00) scale(0.2851,0.2640) translate(-32.50,-100)" fill="none" stroke="#2b2b2b" stroke-width="9.11" stroke-linejoin="miter" stroke-miterlimit="2.2"><path d="M5,30 C5,12 17,0 32,0 C47,0 58,11 58,26 C58,38 52,46 44,56 L6,99 L60,99"/></g>
<g transform="translate(993.14,856.00) scale(0.2851,0.2640) translate(-31.00,-100)" fill="none" stroke="#2b2b2b" stroke-width="9.11" stroke-linejoin="miter" stroke-miterlimit="2.2"><path d="M5,2 L57,2 L19,100"/></g>
<g transform="translate(1016.61,912.50) scale(0.2786,0.2580) translate(-32.50,-100)" fill="none" stroke="#2b2b2b" stroke-width="9.32" stroke-linejoin="miter" stroke-miterlimit="2.2"><path d="M5,30 C5,12 17,0 32,0 C47,0 58,11 58,26 C58,38 52,46 44,56 L6,99 L60,99"/></g>
<g transform="translate(1037.81,912.50) scale(0.2786,0.2580) translate(-31.00,-100)" fill="none" stroke="#2b2b2b" stroke-width="9.32" stroke-linejoin="miter" stroke-miterlimit="2.2"><path d="M5,2 L57,2 L19,100"/></g>
<line x1="681.50" y1="524.20" x2="867.20" y2="417.85" stroke="#2b2b2b" stroke-width="2.2" stroke-linecap="butt"/>
<line x1="867.20" y1="417.85" x2="883.26" y2="408.65" stroke="#222" stroke-width="4.6" stroke-dasharray="1.6 1.0"/>
<g transform="translate(689.45,509.51) rotate(-29.8) scale(0.2620) translate(0,-100)" fill="none" stroke="#2b2b2b" stroke-width="9.54" stroke-linecap="butt" stroke-linejoin="miter" stroke-miterlimit="2.2"><path transform="translate(0.0,0)" d="M4,100 L4,2 L66,98 L66,0"/></g>
<circle cx="707.14" cy="473.79" r="5.4" fill="none" stroke="#2b2b2b" stroke-width="2.1"/>
<g transform="translate(726.07,488.53) rotate(-29.8) scale(0.2620) translate(0,-100)" fill="none" stroke="#2b2b2b" stroke-width="9.54" stroke-linecap="butt" stroke-linejoin="miter" stroke-miterlimit="2.2"><path transform="translate(0.0,0)" d="M49,100 L49,1 L3,73 L64,73"/></g>
<g transform="translate(755.05,471.94) rotate(-29.8) scale(0.2620) translate(0,-100)" fill="none" stroke="#2b2b2b" stroke-width="9.54" stroke-linecap="butt" stroke-linejoin="miter" stroke-miterlimit="2.2"><path transform="translate(0.0,0)" d="M30,1 C20,-1 13,4 13,15 L13,100 M2,31 L27,31"/></g>
<g transform="translate(764.94,466.27) rotate(-29.8) scale(0.2620) translate(0,-100)" fill="none" stroke="#2b2b2b" stroke-width="9.54" stroke-linecap="butt" stroke-linejoin="miter" stroke-miterlimit="2.2"><path transform="translate(0.0,0)" d="M36,28 C56,28 70,44 70,64 C70,84 56,100 36,100 C16,100 2,84 2,64 C2,44 16,28 36,28 Z"/></g>
<g transform="translate(786.12,454.14) rotate(-29.8) scale(0.2620) translate(0,-100)" fill="none" stroke="#2b2b2b" stroke-width="9.54" stroke-linecap="butt" stroke-linejoin="miter" stroke-miterlimit="2.2"><path transform="translate(0.0,0)" d="M4,29 L4,100 M4,48 C8,35 17,28 28,30"/></g>
<g transform="translate(797.05,447.88) rotate(-29.8) scale(0.2620) translate(0,-100)" fill="none" stroke="#2b2b2b" stroke-width="9.54" stroke-linecap="butt" stroke-linejoin="miter" stroke-miterlimit="2.2"><path transform="translate(0.0,0)" d="M5,29 L5,100 M5,4 L5,8"/></g>
<circle cx="823.62" cy="417.00" r="12.6" fill="none" stroke="#2b2b2b" stroke-width="2.0"/>
<line x1="826.35" y1="436.06" x2="820.56" y2="396.16" stroke="#2b2b2b" stroke-width="2.0" stroke-linecap="butt"/>
<g transform="translate(851.20,416.87) rotate(-29.8) scale(0.2620) translate(0,-100)" fill="none" stroke="#2b2b2b" stroke-width="9.54" stroke-linecap="butt" stroke-linejoin="miter" stroke-miterlimit="2.2"><path transform="translate(0.0,0)" d="M5,2 L57,2 L19,100"/></g>
</g>
</svg>
</body></html>
